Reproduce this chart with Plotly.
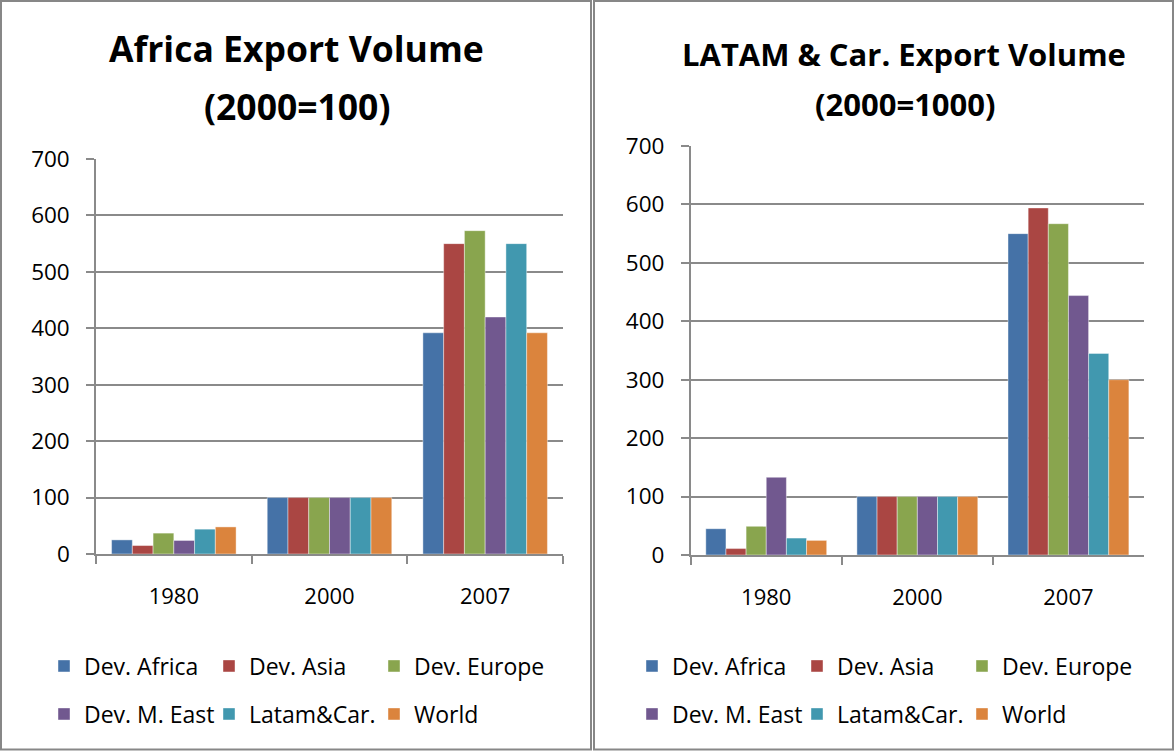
import plotly.graph_objects as go

categories = ["1980", "2000", "2007"]
series_names = ["Dev. Africa", "Dev. Asia", "Dev. Europe", "Dev. M. East", "Latam&Car.", "World"]
colors = ["#4572A7", "#AA4643", "#89A54E", "#71588F", "#4198AF", "#DB843D"]

africa_dev_africa = [25, 100, 392]
africa_dev_asia = [15, 100, 550]
africa_dev_europe = [37, 100, 573]
africa_dev_meast = [24, 100, 420]
africa_latam = [44, 100, 550]
africa_world = [48, 100, 392]

latam_dev_africa = [45, 100, 550]
latam_dev_asia = [11, 100, 594]
latam_dev_europe = [49, 100, 567]
latam_dev_meast = [133, 100, 444]
latam_latam = [29, 100, 345]
latam_world = [25, 100, 300]

africa_series = [africa_dev_africa, africa_dev_asia, africa_dev_europe,
                 africa_dev_meast, africa_latam, africa_world]
latam_series = [latam_dev_africa, latam_dev_asia, latam_dev_europe,
                latam_dev_meast, latam_latam, latam_world]

y_ticks = [0, 100, 200, 300, 400, 500, 600, 700]

W, H = 1174, 751
FONT = "Open Sans"
GRID = "#8a8a8a"

def px(x):
    return x / W

def py(y):
    return 1 - y / H

fig = go.Figure()

for i, (name, vals) in enumerate(zip(series_names, africa_series)):
    fig.add_trace(go.Bar(
        x=categories, y=vals, name=name, marker_color=colors[i],
        marker_line=dict(width=0.6, color="rgba(255,255,255,0.7)"),
        xaxis="x", yaxis="y", legend="legend" if i < 3 else "legend2",
        legendwidth=170 if i % 3 == 2 else None,
    ))
for i, (name, vals) in enumerate(zip(series_names, latam_series)):
    fig.add_trace(go.Bar(
        x=categories, y=vals, name=name, marker_color=colors[i],
        marker_line=dict(width=0.6, color="rgba(255,255,255,0.7)"),
        xaxis="x2", yaxis="y2", legend="legend3" if i < 3 else "legend4",
        legendwidth=170 if i % 3 == 2 else None,
    ))

xax = dict(type="category", tickson="boundaries", ticks="outside", ticklen=8,
           tickcolor=GRID, tickwidth=1.5, showline=True, linecolor=GRID, linewidth=1.5,
           showgrid=False, tickfont=dict(family=FONT, size=22, color="#000"),
           ticklabelstandoff=22, fixedrange=True, automargin=False)
yax = dict(range=[0, 700], tickvals=y_ticks, ticks="outside", ticklen=8, tickcolor=GRID,
           tickwidth=1.5, showline=True, linecolor=GRID, linewidth=1.5,
           showgrid=True, gridcolor=GRID, gridwidth=1.5, zeroline=False,
           tickfont=dict(family=FONT, size=22.5, color="#000"),
           ticklabelstandoff=12, fixedrange=True, automargin=False)

leg = dict(orientation="h", xanchor="left", yanchor="middle", bgcolor="rgba(0,0,0,0)",
           font=dict(family=FONT, size=23, color="#000"), entrywidth=120,
           entrywidthmode="pixels", itemclick=False, itemdoubleclick=False)

fig.update_layout(
    width=W, height=H, margin=dict(l=0, r=0, t=0, b=0, pad=0, autoexpand=False),
    paper_bgcolor="white", plot_bgcolor="white",
    barmode="group", bargap=0.2, bargroupgap=0,
    xaxis=dict(domain=[px(96), px(563)], anchor="y", **xax),
    yaxis=dict(domain=[py(554), py(159)], anchor="x", **yax),
    xaxis2=dict(domain=[px(690.7), px(1144)], anchor="y2", **xax),
    yaxis2=dict(domain=[py(555), py(146)], anchor="x2", **yax),
    legend=dict(x=px(44), y=py(666), **leg),
    legend2=dict(x=px(44), y=py(714), **leg),
    legend3=dict(x=px(632), y=py(666), **leg),
    legend4=dict(x=px(632), y=py(714), **leg),
    showlegend=True,
)

# panel borders
for x0, x1 in [(1, 591), (594, 1173)]:
    fig.add_shape(type="rect", xref="paper", yref="paper",
                  x0=px(x0), x1=px(x1), y0=py(749.5), y1=py(1),
                  line=dict(color="#878787", width=2), fillcolor="rgba(0,0,0,0)")

titles = [
    ("Africa Export Volume", 296.5, 48, 35.5),
    ("(2000=100)", 297, 106, 35.5),
    ("LATAM & Car. Export Volume", 904, 54, 31),
    ("(2000=1000)", 905, 104, 31),
]
for text, cx, cy, size in titles:
    fig.add_annotation(text="<b>" + text + "</b>", xref="paper", yref="paper",
                       x=px(cx), y=py(cy), xanchor="center", yanchor="middle",
                       showarrow=False, font=dict(family=FONT, size=size, color="#000"))

fig.write_html("out.html", config={"displayModeBar": False},
               post_script="document.body.style.margin='0';document.body.style.overflow='hidden';")
